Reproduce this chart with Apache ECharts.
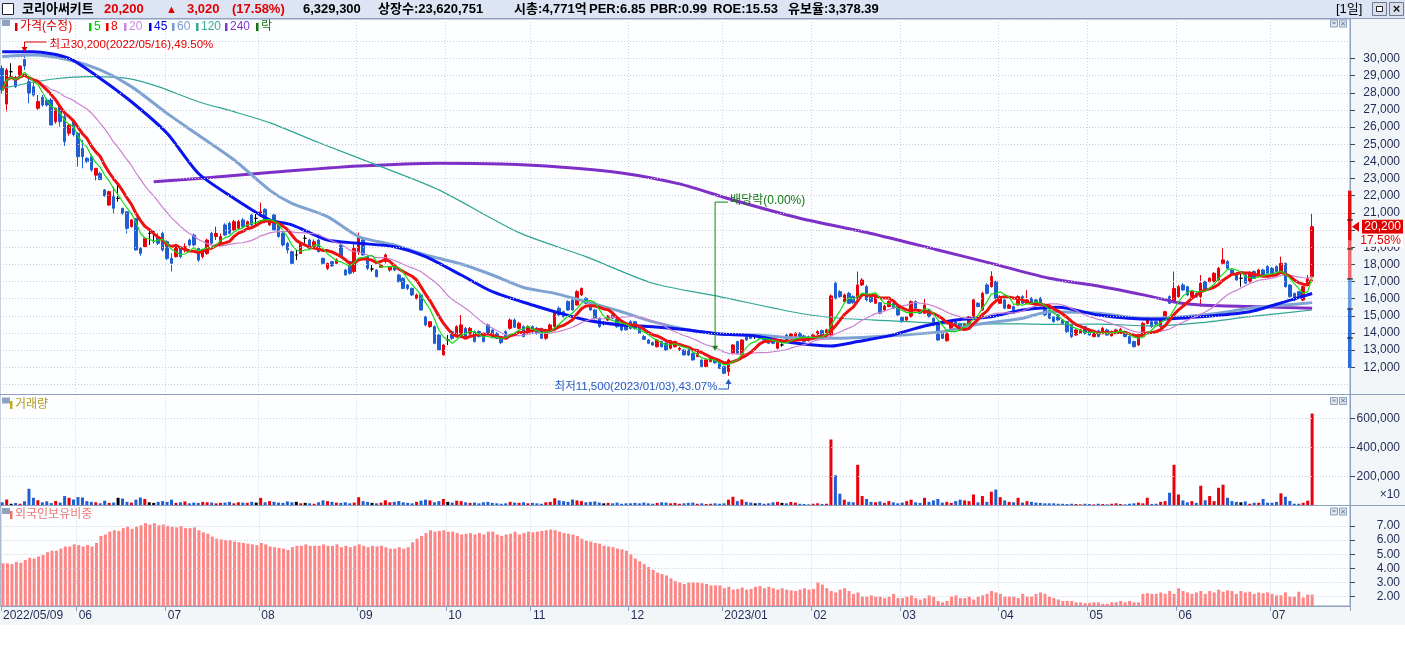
<!DOCTYPE html>
<html><head><meta charset="utf-8">
<script src="https://cdn.jsdelivr.net/npm/echarts@6/dist/echarts.min.js"></script>
<style>html,body{margin:0;padding:0;background:#fff}#c{width:1405px;height:648px}</style>
</head><body><div id="c"></div>
<script>
// ---------------- DATA ----------------
const openP = [
29430,27350,29230,28900,28980,29950,28650,28360,27100,27740,
27580,27580,26320,27190,26610,25640,26300,25640,24760,24180,
24280,23200,23300,22340,21460,21950,21850,21270,21070,20200,
20680,18930,19030,19800,19900,19610,19810,19320,18350,18450,
18930,18840,19420,19710,18930,18450,18640,19810,19620,19230,
20300,20390,20000,20100,20590,20200,20880,20680,20820,21210,
20300,20880,20300,19810,19230,18740,18550,18640,19520,19420,
19030,19420,18350,17770,18160,18060,19130,17670,18160,17580,
18740,19420,18450,17730,17670,17830,18160,17670,17960,17380,
17190,16800,16600,16020,16220,14950,14370,14370,13880,12720,
13590,14080,13790,13790,14270,13940,14080,14080,13980,14470,
14180,13980,13690,14080,14270,14760,14270,14370,14020,14370,
14270,14270,13690,14080,14370,15440,15240,15830,15920,15630,
16220,16020,15630,15340,14860,14560,14760,15050,14800,14470,
14370,14660,14660,14370,13790,13590,13440,13200,13500,13400,
13110,13200,13050,13010,13010,12820,12620,12430,12040,12330,
12520,12230,12040,11750,12820,13500,12720,13880,13880,13790,
13940,13790,13630,13500,13110,13300,13880,13790,13790,13980,
13830,13790,13690,13940,14140,13830,13880,16900,16410,15830,
16310,16120,16020,16800,16700,16080,15730,15770,15340,15540,
15730,15630,14910,14760,14950,15830,15340,15150,15340,14860,
14560,13980,13550,14270,14660,14560,14220,14370,14950,15730,
15340,16800,16700,16990,15730,15930,15440,15540,15630,16120,
15730,16020,15930,16020,15630,15340,14950,15050,14760,14660,
14470,13880,13980,14370,14180,13790,14120,13980,14180,13830,
13980,13980,14080,13790,13500,13300,13790,14560,14660,14660,
14370,14860,16120,15830,16120,16800,16700,16120,16310,16120,
16990,16990,16990,17090,18060,18160,17670,17480,17190,17380,
16990,17580,17280,17670,17870,17770,17870,17580,18060,16800,
16310,16410,15920,16800,17280];
const closeP = [
28160,29330,29230,28360,29560,29560,27970,27870,27490,27290,
27290,26120,27100,26320,25150,26120,25560,24280,24280,23990,
23500,23600,22950,21990,22240,21270,21850,20970,20100,20590,
18840,18640,19520,19800,19900,19230,18840,18350,18060,19130,
18450,19030,19130,19130,18250,18840,19420,19230,19810,19620,
19710,19810,20490,20490,20200,20490,20300,20680,21070,20490,
20490,20000,19620,19130,18840,18060,18550,19230,19520,18940,
19320,18740,18060,18060,17910,18260,18450,17380,17480,18940,
19620,18550,17770,17730,17280,17960,18550,17870,17670,16990,
16600,16600,16220,16220,15340,14470,14660,13400,13010,13300,
13590,13690,14370,14470,13690,14270,13500,13790,13500,13980,
13790,13690,13440,13790,14760,14330,14560,13790,14370,14080,
13980,13690,14180,14470,15150,15050,14950,15340,15340,16410,
16600,15730,15340,14860,14370,14560,14990,14860,14370,14180,
14180,14270,14270,13980,13630,13400,13300,13590,13200,13010,
13550,13500,13110,12720,12720,12430,12820,12040,12430,12520,
12270,11940,11650,12430,13300,12820,13590,13590,13690,13790,
13690,13590,13400,13400,13440,13300,13590,13940,13980,13750,
13500,13550,13880,14080,13880,14180,16160,16020,16120,16220,
15730,15770,16800,17090,15930,15830,16120,15150,15580,15830,
15440,15050,14660,14950,15830,15440,15150,15630,14950,14470,
13590,13690,13980,14660,14470,14180,14530,14950,15930,15540,
16310,16310,17290,16020,16120,15440,15630,15150,16120,15730,
15930,15730,15630,15630,15050,14860,14660,14760,14560,14080,
13790,14180,14180,13980,13880,14080,13790,14270,13880,14080,
14180,14210,13790,13400,13200,13880,14560,14860,14370,14530,
14760,15240,15730,16600,16700,16510,16220,16410,16120,16900,
16510,17190,17480,17770,18260,17770,17480,17090,17190,16900,
17520,17190,17670,17380,17480,17480,17580,18060,16700,16120,
15920,16120,16700,17180,20200];
const lowP = [
27950,26900,28900,28280,28950,29330,27390,27780,27000,27190,
27200,26120,26200,26030,24900,25500,25450,23700,23600,23900,
23400,22900,22900,21950,21400,20970,21650,20900,19800,20150,
18800,18500,18950,19130,19230,19130,18750,18250,17580,18400,
18350,18700,19050,19050,18150,18350,18550,19150,19420,19130,
19650,19750,19950,20050,20100,20150,20250,20300,20750,20400,
20250,19950,19550,19050,18640,18000,18260,18600,19230,18900,
18950,18700,18000,17670,17850,18000,18400,17350,17400,17480,
18550,18500,17670,17580,17250,17800,18060,17580,17600,16950,
16550,16500,16150,15950,15300,14400,14300,13350,12950,12700,
13300,13600,13750,13700,13650,13900,13450,13750,13450,13950,
13750,13650,13350,13750,14200,14300,14200,13750,13950,14000,
13900,13650,13600,14000,14300,15000,14900,15300,15300,15600,
16150,15700,15300,14800,14300,14450,14700,14800,14300,14100,
14150,14200,14200,13950,13600,13350,13250,13150,13150,12950,
13050,13150,12950,12700,12650,12380,12600,12000,12000,12300,
12200,11900,11600,11500,12750,12750,12650,13550,13650,13650,
13650,13550,13350,13350,13050,13200,13550,13750,13750,13700,
13450,13500,13650,13900,13850,13800,13850,15950,16050,15800,
15700,15700,15950,16750,15850,15750,15700,15100,15300,15500,
15400,15000,14600,14700,14900,15400,15100,15100,14900,14400,
13550,13650,13500,14200,14400,14100,14150,14300,14900,15500,
15300,16250,16650,15950,15700,15400,15400,15100,15600,15700,
15700,15700,15600,15600,15000,14800,14600,14700,14500,14000,
13700,13850,13950,13900,13850,13750,13750,13950,13850,13800,
13950,13950,13750,13350,13150,13250,13750,14500,14300,14450,
14300,14800,15700,15730,16050,16450,16150,16050,16050,15540,
16450,16950,16950,17050,18000,17700,17450,17050,16700,16850,
16950,17150,17250,17350,17450,17400,17550,17550,16650,16050,
15850,16050,15850,16750,17250];
const highP = [
29600,29430,29720,29000,29600,30200,28840,28750,27870,27870,
27700,27700,27130,27250,26800,26200,26350,25700,25250,24250,
24400,23600,23400,22400,22300,22530,22800,21300,21100,20650,
20700,19000,19600,20100,20000,19800,19900,19400,18640,19200,
19000,19230,19500,19800,19030,18900,19500,19900,20200,19800,
20400,20500,20600,20600,20700,20550,20950,21070,21600,21270,
20550,20980,20400,19900,19300,18800,18840,19300,19710,19500,
19450,19500,18400,18100,18200,18350,19230,17750,18200,19230,
19850,19500,18500,17960,17700,18000,18640,17900,18000,17450,
17250,16850,16650,16300,16300,15000,14700,14450,13950,13350,
13880,14150,14450,15050,14350,14350,14150,14150,14050,14550,
14250,14050,13750,14150,14850,14850,14650,14450,14450,14450,
14350,14300,14250,14550,15250,15550,15300,15900,16000,16500,
16650,16100,15700,15400,14900,14700,15050,15100,14850,14550,
14450,14750,14700,14450,13880,13650,13500,13650,13550,13450,
13600,13550,13200,13050,13050,12850,12900,12450,12500,12600,
12550,12300,12100,12500,13350,13550,13650,13950,13950,13900,
14000,13850,13700,13550,13500,13400,13950,14000,14050,14050,
13900,13850,13950,14150,14200,14250,16250,17000,16500,16300,
16400,16200,17580,17200,16800,16150,16200,15800,15650,15900,
15800,15700,14950,15000,15900,15900,15400,16020,15400,14900,
14600,14050,14050,14700,14700,14600,14600,15000,16000,15800,
16400,16900,17600,17050,16200,16000,15700,15600,16200,16200,
16510,16100,16000,16100,15700,15400,15000,15100,14800,14700,
14500,14250,14250,14400,14250,14150,14200,14350,14250,14150,
14250,14300,14150,13850,13550,13950,14650,14950,14750,14700,
14800,15300,16200,17580,16800,16900,16750,16500,16400,17380,
17050,17250,17550,17850,18940,18250,17700,17550,17480,17450,
17600,17650,17750,17750,17950,17850,17950,18450,18100,16850,
16350,16450,16750,17380,20950];
// volume (unit: 10 shares)
const volume = [
22000,41000,12000,17000,12000,29000,115000,53000,36000,22000,29000,17000,31000,20000,65000,53000,41000,
58000,55000,30000,25000,22000,15000,33000,18000,20000,53000,48000,25000,20000,40000,55000,45000,22000,18000,25000,30000,
25000,40000,18000,22000,28000,15000,20000,18000,25000,22000,20000,15000,18000,20000,25000,15000,22000,20000,18000,25000,20000,
53000,22000,30000,25000,20000,18000,28000,22000,25000,15000,18000,15000,12000,22000,35000,30000,25000,20000,18000,22000,15000,20000,
57000,30000,25000,18000,15000,20000,36000,22000,25000,30000,22000,18000,15000,25000,33000,40000,35000,22000,30000,45000,
25000,20000,33000,30000,22000,18000,20000,15000,22000,25000,18000,15000,12000,15000,25000,20000,18000,22000,15000,
18000,15000,12000,22000,25000,50000,35000,30000,25000,41000,35000,30000,22000,25000,28000,20000,15000,18000,15000,20000,12000,15000,
15000,18000,15000,20000,15000,12000,18000,22000,20000,15000,18000,12000,15000,18000,20000,12000,15000,10000,12000,15000,12000,
15000,40000,60000,30000,41000,25000,20000,15000,18000,12000,15000,22000,25000,18000,15000,24000,20000,12000,10000,8000,
12000,15000,10000,12000,454000,208000,81000,40000,25000,22000,280000,65000,45000,25000,22000,28000,18000,30000,22000,15000,
20000,30000,40000,22000,18000,53000,25000,35000,45000,20000,25000,18000,30000,40000,35000,30000,76000,22000,65000,25000,95000,110000,
57000,35000,25000,22000,53000,20000,30000,25000,20000,18000,15000,15000,15000,12000,12000,10000,12000,10000,8000,12000,
10000,8000,12000,10000,8000,12000,15000,10000,8000,12000,15000,20000,15000,53000,10000,12000,25000,30000,88000,280000,
76000,35000,22000,30000,18000,136000,36000,65000,30000,122000,143000,53000,30000,25000,22000,28000,12000,19000,19000,45000,19000,
19000,25000,84000,60000,31000,12000,12000,19000,33000,632930];
// foreign ownership ratio (%)
const foreign = [
4.36,4.36,4.30,4.45,4.40,4.60,4.75,4.70,4.85,4.95,5.15,5.25,5.25,5.40,5.55,5.55,5.70,
5.65,5.55,5.65,5.55,5.80,6.30,6.40,6.60,6.70,6.65,6.85,6.95,6.80,6.95,7.05,7.20,7.10,7.20,7.05,7.10,
7.00,6.95,6.90,7.00,6.85,6.85,6.90,6.70,6.55,6.45,6.25,6.10,6.05,6.00,6.00,5.90,5.85,5.80,5.75,5.70,5.65,
5.80,5.70,5.55,5.50,5.45,5.40,5.30,5.50,5.60,5.60,5.70,5.60,5.60,5.60,5.70,5.60,5.60,5.70,5.50,5.60,5.50,5.60,
5.70,5.60,5.50,5.60,5.55,5.60,5.50,5.40,5.40,5.50,5.40,5.50,5.85,6.10,6.30,6.50,6.70,6.60,6.65,6.70,
6.60,6.60,6.50,6.40,6.45,6.50,6.40,6.50,6.40,6.60,6.60,6.40,6.30,6.40,6.45,6.60,6.40,6.50,6.60,
6.55,6.60,6.65,6.70,6.75,6.70,6.60,6.50,6.45,6.40,6.30,6.10,5.95,5.90,5.80,5.75,5.60,5.55,5.50,5.40,5.35,5.25,
5.00,4.70,4.50,4.30,4.10,3.90,3.70,3.60,3.50,3.30,3.10,3.00,2.90,3.00,3.00,3.00,2.95,2.90,2.80,2.80,2.80,
2.60,2.70,2.50,2.55,2.65,2.50,2.55,2.70,2.75,2.60,2.70,2.60,2.50,2.60,2.50,2.45,2.40,2.50,2.60,2.50,
2.55,3.00,2.85,2.60,2.40,2.30,2.50,2.60,2.40,2.20,2.30,2.00,2.00,2.10,2.00,2.00,1.90,2.00,2.20,1.90,
1.90,2.00,2.10,1.90,1.80,1.90,2.10,2.00,1.70,1.60,1.70,2.00,2.10,1.90,1.90,2.00,1.80,2.00,2.10,2.20,2.40,2.30,
2.20,2.00,2.00,2.00,1.90,2.20,2.00,2.00,2.20,2.30,2.20,2.00,1.90,1.80,1.70,1.70,1.70,1.60,1.60,1.55,
1.55,1.60,1.60,1.50,1.50,1.60,1.60,1.70,1.60,1.70,1.60,1.60,2.20,2.25,2.20,2.20,2.30,2.20,2.40,2.20,
2.60,2.40,2.30,2.20,2.30,2.40,2.20,2.40,2.30,2.50,2.35,2.45,2.40,2.20,2.40,2.30,2.35,2.20,2.30,2.25,2.30,
2.20,2.10,2.10,2.30,2.00,2.00,2.35,1.95,2.15,2.15];
// long moving averages: [trading-day index, price]
const ma45Pts = [[0,30400],[7,30400],[15,30010],[22,28840],[29,27480],[37,25640],[44,23310],[52,21850],[60,20590],[65,20300],[73,19420],[80,19230],[88,19030],[95,18450],[103,17380],[110,16410],[119,15630],[124,15240],[131,14760],[139,14470],[146,14370],[154,14180],[161,13940],[169,13830],[177,13440],[186,13240],[192,13500],[199,13830],[207,14410],[214,14760],[222,14950],[229,15340],[237,15500],[246,15050],[258,14800],[269,14950],[280,15240],[288,15830],[294,16300]];
const ma60Pts = [[0,30110],[7,30200],[15,29910],[22,29330],[29,28360],[37,26800],[44,25540],[52,24100],[60,22330],[65,21560],[73,20780],[80,19620],[88,19130],[95,18550],[103,18020],[110,17380],[117,16650],[124,16310],[131,15830],[139,15240],[146,14660],[154,14180],[161,13940],[169,13880],[177,13720],[186,13690],[199,13830],[211,14080],[218,14470],[229,14860],[235,15240],[246,15150],[256,14860],[265,14950],[273,15150],[280,15440],[288,15630],[294,15770]];
const ma120Pts = [[0,28260],[11,28790],[19,28940],[28,28840],[35,28360],[44,27480],[52,26900],[60,26260],[71,25100],[85,23700],[98,22340],[116,19850],[131,18450],[146,16900],[161,16120],[179,15150],[188,14860],[199,14720],[214,14530],[229,14530],[235,14500],[246,14520],[258,14410],[269,14600],[280,14950],[294,15340]];
const ma240Pts = [[34,22820],[44,23000],[60,23350],[80,23730],[98,23900],[112,23850],[125,23680],[139,23330],[152,22690],[164,21750],[179,20690],[195,19800],[210,18840],[222,18060],[235,17190],[246,16740],[258,16120],[264,15760],[269,15630],[280,15540],[294,15440]];
const holidays = ['2022-06-01','2022-06-06','2022-08-15','2022-09-09','2022-09-12','2022-10-03','2022-10-10','2022-12-30','2023-01-23','2023-01-24','2023-03-01','2023-05-01','2023-05-05','2023-05-29','2023-06-06'];
const priceTicks = [12000,13000,14000,15000,16000,17000,18000,19000,20000,21000,22000,23000,24000,25000,26000,27000,28000,29000,30000];
const priceGrid = [11000].concat(priceTicks, [31000]);
const volTicks = [200000,400000,600000];
const forTicks = [2,3,4,5,6,7];
const rangeBar = [22296,19381,17150,15383,11962];
const rangeMarks = [20588,18898,17150,15400,13710];
const hiPoint = [5,30200], loPoint = [163,11500];
const exDiv = {idx:160, top:21630, bottom:12970};

// ---------------- BUILD ----------------
const F = "'Liberation Sans','Noto Sans CJK KR',sans-serif";
const UP = '#e8000b', DN = '#1f5fd2', DJ = '#000000';
const N = closeP.length;
const dates = [];
{ let d = new Date(Date.UTC(2022,4,9));
  while (dates.length < N) { const w = d.getUTCDay(); const s = d.toISOString().slice(0,10);
    if (w!==0 && w!==6 && holidays.indexOf(s)<0) dates.push(s); d.setUTCDate(d.getUTCDate()+1); } }
const cats = dates.concat(['e1','e2','e3','e4','e5','e6','e7','e8']);
function isMS(i){ if(i>=N) return false; if(i===0) return true; return dates[i].slice(5,7)!==dates[i-1].slice(5,7); }
function dLabel(i){ if(i>=N) return ''; if(i===0) return dates[0].replace(/-/g,'/'); const m=dates[i].slice(5,7); return m==='01'? dates[i].slice(0,4)+'/01' : m; }
function ma(n){ return closeP.map((_,i)=>{ const s=Math.max(0,i-n+1); let t=0; for(let k=s;k<=i;k++) t+=closeP[k]; return Math.round(t/(i-s+1)); }); }
const sign = i => closeP[i]>openP[i]?UP:(closeP[i]<openP[i]?DN:DJ);
const fmt = v => Math.round(v).toLocaleString('en-US');
const gridML = vals => ({silent:true, symbol:['none','none'], animation:false, label:{show:false}, emphasis:{disabled:true},
  lineStyle:{color:'#c7ccd6', type:[1,2], width:1}, data: vals.map(v=>({yAxis:v}))});

const xAx = gi => ({type:'category', gridIndex:gi, data:cats, boundaryGap:true,
  axisLine:{show:gi===2, lineStyle:{color:'#8da0bf'}},
  axisTick:{show:gi===2, interval:(i)=>isMS(i), length:5, lineStyle:{color:'#8da0bf'}},
  axisLabel:{show:gi===2, interval:(i)=>isMS(i), formatter:(v,i)=>dLabel(i), align:'left', color:'#1f2a55', fontSize:12, fontFamily:F, margin:4},
  splitLine:{show:true, interval:(i)=>isMS(i), lineStyle:{color:'#cfd4dc', type:[1,2]}}});
const yAx = (gi,min,max,ticks,f) => ({type:'value', gridIndex:gi, position:'right', min, max,
  splitLine:{show:false}, axisLine:{show:true, lineStyle:{color:'#8da0bf'}},
  axisTick:{show:true, length:5, customValues:ticks, lineStyle:{color:'#3a4568'}},
  axisLabel:{customValues:ticks, formatter:f, align:'right', margin:50, color:'#1f2a55', fontSize:12, fontFamily:F}});
const gridBox = (top,height) => ({left:0, top, width:1350, height, show:true, borderColor:'#8da0bf', borderWidth:1, backgroundColor:'#fdfeff'});
const lineS = (data,color,w,smooth) => ({type:'line', xAxisIndex:0, yAxisIndex:0, data, showSymbol:false, symbol:'none', smooth:smooth||false, silent:true,
  lineStyle:{color, width:w}, z:3});

const chart = echarts.init(document.getElementById('c'));
chart.setOption({
  animation:false, backgroundColor:'#f3f6f8',
  grid:[gridBox(19,375.5), gridBox(394.5,111), gridBox(505.5,100.5)],
  xAxis:[xAx(0), xAx(1), xAx(2)],
  yAxis:[yAx(0,10415,32302,priceTicks,fmt), yAx(1,0,763800,volTicks,fmt), yAx(2,1.342,8.45,forTicks,v=>v.toFixed(2))],
  series:[
    {type:'candlestick', xAxisIndex:0, yAxisIndex:0, barWidth:3, silent:true,
     data: closeP.map((c,i)=>[openP[i],c,lowP[i],highP[i]]),
     itemStyle:{color:UP, color0:DN, borderColor:UP, borderColor0:DN, borderColorDoji:DJ, borderWidth:1},
     markLine: gridML(priceGrid)},
    lineS(ma240Pts,'#7d2fc8',3,0.25),
    lineS(ma120Pts,'#2fa595',1.2,0.25),
    lineS(ma60Pts,'#7ea3d2',3,0.25),
    lineS(ma45Pts,'#0a14ee',3,0.25),
    lineS(ma(20),'#cc80d0',1.2),
    lineS(ma(8),'#ee1111',3),
    lineS(ma(5),'#10dd10',1.2),
    {type:'bar', xAxisIndex:1, yAxisIndex:1, barWidth:3, silent:true,
     data: volume.map((v,i)=>({value:v, itemStyle:{color:sign(i)}})), markLine: gridML(volTicks)},
    {type:'bar', xAxisIndex:2, yAxisIndex:2, barWidth:3, silent:true, itemStyle:{color:'#ff8585'},
     data: foreign, markLine: gridML(forTicks)}
  ]
});

// ---------------- ANNOTATIONS ----------------
const P = (i,v)=>chart.convertToPixel({xAxisIndex:0,yAxisIndex:0},[i,v]);
const g = [];
function T(x,y,t,color,size,weight,align){ g.push({type:'text', x, y, z:110, silent:true,
  style:{text:t, fill:color, font:(weight||'normal')+' '+(size||12)+'px '+F, textAlign:align||'left', align:align||'left', textVerticalAlign:'middle', verticalAlign:'middle'}}); }
function R(x,y,w,h,fill,stroke,z){ g.push({type:'rect', z:z||105, silent:true, shape:{x,y,width:w,height:h}, style:{fill:fill||'none', stroke:stroke||null, lineWidth:1}}); }
function L(x1,y1,x2,y2,c,w){ g.push({type:'line', z:108, silent:true, shape:{x1,y1,x2,y2}, style:{stroke:c, lineWidth:w||1}}); }
function TRI(pts,c){ g.push({type:'polygon', z:108, silent:true, shape:{points:pts}, style:{fill:c}}); }

// header
R(0,0,1405,18,'#dde5f4',null,104); L(0,18.5,1405,18.5,'#8da0bf');
R(2.5,3.5,11,11,'#ffffff','#222');
T(22,9.5,'코리아써키트','#000',13,'bold');
T(104,9.5,'20,200','#e00000',13,'bold'); T(166,9.5,'▲','#e00000',11,'bold');
T(187,9.5,'3,020','#e00000',13,'bold'); T(232,9.5,'(17.58%)','#e00000',13,'bold');
T(303,9.5,'6,329,300','#000',13,'bold'); T(378,9.5,'상장수:23,620,751','#000',13,'bold');
T(514,9.5,'시총:4,771억','#000',13,'bold'); T(589,9.5,'PER:6.85','#000',13,'bold');
T(650,9.5,'PBR:0.99','#000',13,'bold'); T(713,9.5,'ROE:15.53','#000',13,'bold');
T(788,9.5,'유보율:3,378.39','#000',13,'bold');
T(1336,9.5,'[1일]','#000',13,'normal');
R(1372.5,2.5,14,13,'#d9dee8','#6f7b92'); R(1376.5,6.5,6,5,'#fff','#222');
R(1389.5,2.5,14,13,'#d9dee8','#6f7b92'); T(1396.5,9.5,'×','#111',13,'bold','center');
// panel separators across full width
L(0,394.5,1405,394.5,'#8da0bf'); L(0,505.5,1405,505.5,'#8da0bf');
// white bottom strip
R(0,625,1405,23,'#ffffff',null,104);
// panel icons
[[20],[397.5],[508]].forEach(([y])=>{ R(2,y,8,6,'#8fa2bf',null); R(1330.5,y,7,7,'#dfe4ec','#8da0bf'); R(1332.5,y+2,3,2,'#8da0bf'); R(1339.5,y,7,7,'#dfe4ec','#8da0bf'); T(1343,y+3.5,'×','#6d7f9f',8,'bold','center'); });
// price legend
const leg = [[15,'가격(수정)','#e00000'],[89,'5','#00cc00'],[106,'8','#ee0000'],[124,'20','#cc88dd'],[149,'45','#0000ee'],[172,'60','#7799cc'],[196,'120','#33aa99'],[225,'240','#8833cc'],[256,'락','#117711']];
leg.forEach(([x,t,c])=>{ R(x,23,2.5,8,c,null); T(x+5,27,t,c,12); });
// volume & foreign legend
R(10,401,2.5,8,'#c8a820',null); T(15,405,'거래량','#b09a1c',12);
R(10,511,2.5,8,'#f07070',null); T(15,515,'외국인보유비중','#f07878',12);
T(1400,495,'×10','#1f2a55',12,'normal','right');
// high annotation
const hp = P(hiPoint[0],hiPoint[1]);
L(hp[0],42,hp[0]+22,42,'#e00000'); L(hp[0],42,hp[0],48,'#e00000');
TRI([[hp[0]-3,47],[hp[0]+3,47],[hp[0],52]],'#e00000');
T(hp[0]+25,45,'최고30,200(2022/05/16),49.50%','#e00000',11.5);
// low annotation
const lp = P(loPoint[0],loPoint[1]);
T(lp[0]-11,387,'최저11,500(2023/01/03),43.07%','#2358c0',11.5,'normal','right');
L(lp[0]-10,389,lp[0],389,'#2358c0'); L(lp[0],389,lp[0],383,'#2358c0');
TRI([[lp[0]-3,384],[lp[0]+3,384],[lp[0],379]],'#2358c0');
// ex-dividend marker
const et = P(exDiv.idx,exDiv.top), eb = P(exDiv.idx,exDiv.bottom);
L(et[0],et[1],et[0],eb[1]-4,'#118811'); L(et[0],et[1],et[0]+13,et[1],'#118811');
TRI([[eb[0]-3,eb[1]-5],[eb[0]+3,eb[1]-5],[eb[0],eb[1]]],'#118811');
T(et[0]+15,et[1]-1,'배당락(0.00%)','#117711',12);
// right-axis range bar
const rc = ['#dd1111','#ee6a6a','#6f9ee0','#2b6fd6'];
for(let k=0;k<4;k++){ const a=P(0,rangeBar[k]), b=P(0,rangeBar[k+1]); R(1348,a[1],3.5,b[1]-a[1],rc[k],null,106); }
rangeMarks.forEach(v=>{ const p=P(0,v); L(1347,p[1],1353,p[1],'#111'); });
// last price tag
const cp = P(0,closeP[N-1]);
TRI([[1352,cp[1]],[1359,cp[1]-5],[1359,cp[1]+5]],'#e00000');
R(1362,cp[1]-7,41,14,'#e00000',null,106);
T(1401,cp[1],fmt(closeP[N-1]),'#ffffff',12,'normal','right');
R(1362,cp[1]+7,41,13,'#ffffff',null,106);
T(1401,cp[1]+14,'17.58%','#e00000',12,'normal','right');
chart.setOption({graphic:{elements:g}});
</script></body></html>
